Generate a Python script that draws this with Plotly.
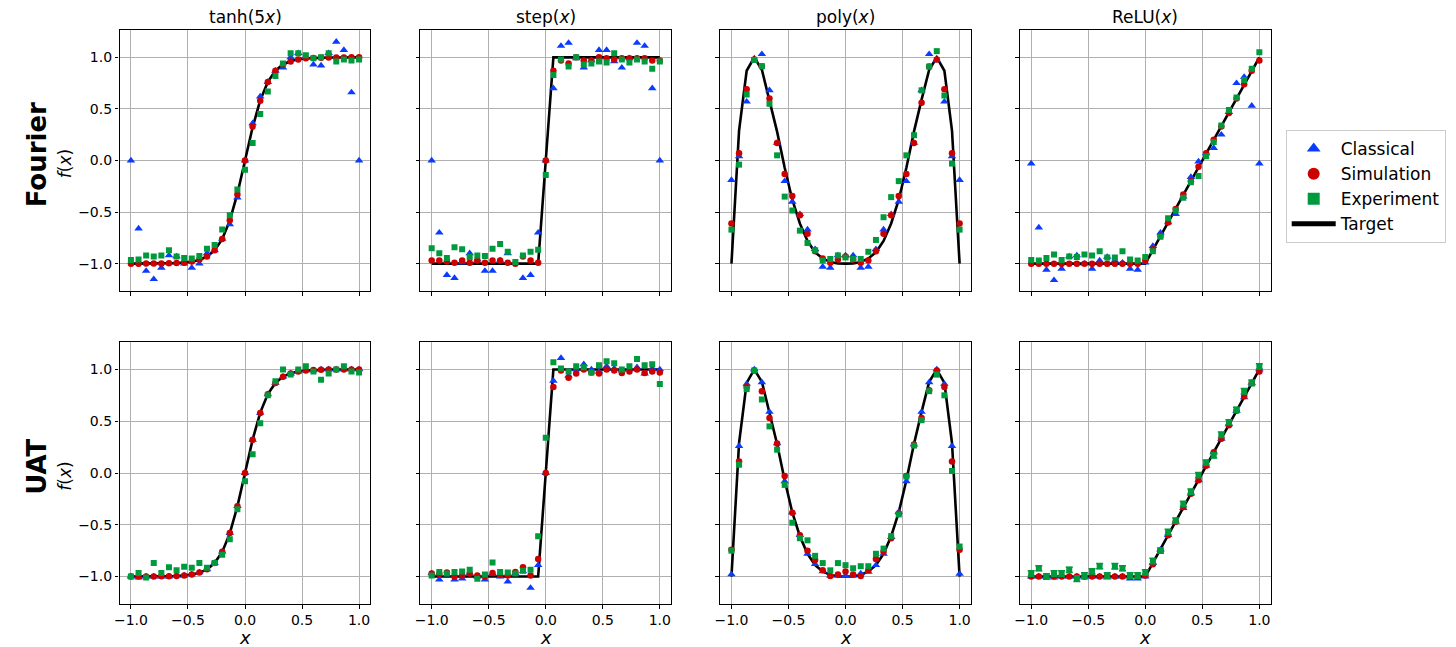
import plotly.graph_objects as go

# ---------------- data ----------------
X = [-1.0, -0.9333, -0.8667, -0.8, -0.7333, -0.6667, -0.6, -0.5333, -0.4667, -0.4,
     -0.3333, -0.2667, -0.2, -0.1333, -0.0667, 0.0, 0.0667, 0.1333, 0.2, 0.2667,
     0.3333, 0.4, 0.4667, 0.5333, 0.6, 0.6667, 0.7333, 0.8, 0.8667, 0.9333, 1.0]

TITLES = ["tanh(5<i>x</i>)", "step(<i>x</i>)", "poly(<i>x</i>)", "ReLU(<i>x</i>)"]
ROWS = ["Fourier", "UAT"]
SERIES = ["Classical", "Simulation", "Experiment", "Target"]

TANH_TARGET = [-1.0, -1.0, -0.999, -0.999, -0.999, -0.997, -0.995, -0.990, -0.981, -0.964,
               -0.931, -0.870, -0.762, -0.583, -0.322, 0.0, 0.322, 0.583, 0.762, 0.870,
               0.931, 0.964, 0.981, 0.990, 0.995, 0.997, 0.999, 0.999, 0.999, 1.0, 1.0]
STEP_TARGET = [-1.0, -1.0, -1.0, -1.0, -1.0, -1.0, -1.0, -1.0, -1.0, -1.0,
               -1.0, -1.0, -1.0, -1.0, -1.0, 0.0, 1.0, 1.0, 1.0, 1.0,
               1.0, 1.0, 1.0, 1.0, 1.0, 1.0, 1.0, 1.0, 1.0, 1.0, 1.0]
POLY_TARGET = [-1.0, 0.29, 0.87, 1.0, 0.88, 0.59, 0.28, -0.07, -0.38, -0.61,
               -0.78, -0.89, -0.95, -0.985, -0.998, -1.0, -0.998, -0.985, -0.95, -0.89,
               -0.78, -0.61, -0.38, -0.07, 0.28, 0.59, 0.88, 1.0, 0.87, 0.29, -1.0]
RELU_TARGET = [-1.0, -1.0, -1.0, -1.0, -1.0, -1.0, -1.0, -1.0, -1.0, -1.0,
               -1.0, -1.0, -1.0, -1.0, -1.0, -1.0, -0.867, -0.733, -0.6, -0.467,
               -0.333, -0.2, -0.067, 0.067, 0.2, 0.333, 0.467, 0.6, 0.733, 0.867, 1.0]

# Fourier row
T1_CLS = [0.0, -0.66, -1.07, -1.15, -1.04, -0.92, -0.93, -1.0, -1.04, -1.0,
          -0.9, -0.87, -0.76, -0.62, -0.36, 0.0, 0.36, 0.62, 0.76, 0.87,
          0.9, 1.0, 1.04, 1.0, 0.93, 0.92, 1.04, 1.15, 1.07, 0.66, 0.0]
T1_SIM = [-1.0, -1.0, -0.999, -0.998, -0.999, -0.996, -0.994, -0.99, -0.98, -0.96,
          -0.93, -0.87, -0.76, -0.58, -0.33, 0.0, 0.33, 0.58, 0.76, 0.87,
          0.93, 0.96, 0.98, 0.99, 0.994, 0.996, 0.999, 0.998, 0.999, 1.0, 1.0]
T1_EXP = [-0.965, -0.96, -0.92, -0.93, -0.92, -0.87, -0.93, -0.945, -0.95, -0.925,
          -0.855, -0.82, -0.67, -0.53, -0.28, -0.09, 0.17, 0.45, 0.67, 0.82,
          0.94, 1.04, 1.04, 1.02, 0.99, 1.0, 1.04, 0.96, 0.98, 0.97, 0.98]

S1_CLS = [0.0, -0.70, -1.11, -1.14, -0.99, -0.90, -0.96, -1.07, -1.07, -0.97,
          -0.90, -0.99, -1.14, -1.11, -0.70, 0.0, 0.70, 1.11, 1.14, 0.99,
          0.90, 0.97, 1.07, 1.07, 0.96, 0.90, 0.99, 1.14, 1.11, 0.70, 0.0]
S1_SIM = [-0.97, -0.97, -0.98, -0.99, -0.97, -0.99, -0.97, -0.99, -0.97, -0.97,
          -0.99, -1.0, -0.93, -0.97, -0.99, 0.0, 0.87, 0.97, 0.94, 1.0,
          0.97, 0.97, 1.0, 0.99, 0.98, 0.99, 0.99, 0.99, 0.99, 0.97, 0.97]
S1_EXP = [-0.85, -0.90, -0.945, -0.84, -0.86, -0.935, -0.92, -0.925, -0.855, -0.81,
          -0.885, -0.985, -0.92, -0.885, -0.865, -0.14, 0.83, 0.98, 0.91, 1.0,
          0.93, 0.94, 0.96, 0.95, 1.04, 0.98, 0.95, 0.98, 0.96, 0.89, 0.96]

P1_CLS = [-0.19, 0.04, 0.57, 0.97, 1.03, 0.68, 0.17, -0.2, -0.40, -0.52,
          -0.67, -0.86, -1.03, -1.04, -0.92, -0.92, -0.92, -1.04, -1.03, -0.86,
          -0.67, -0.52, -0.40, -0.2, 0.17, 0.68, 1.03, 0.97, 0.57, 0.04, -0.19]
P1_SIM = [-0.61, 0.07, 0.69, 0.98, 0.91, 0.6, 0.17, -0.13, -0.345, -0.53,
          -0.71, -0.88, -0.95, -0.99, -0.96, -0.93, -0.96, -0.99, -0.97, -0.88,
          -0.71, -0.53, -0.345, -0.13, 0.17, 0.56, 0.91, 0.98, 0.69, 0.07, -0.61]
P1_EXP = [-0.67, -0.04, 0.64, 0.975, 0.915, 0.55, 0.05, -0.35, -0.485, -0.68,
          -0.8, -0.87, -0.97, -0.955, -0.92, -0.94, -0.955, -0.955, -0.885, -0.77,
          -0.55, -0.355, -0.2, 0.05, 0.245, 0.68, 0.91, 1.06, 0.63, -0.03, -0.67]

R1_CLS = [-0.03, -0.65, -1.06, -1.16, -1.05, -0.93, -0.92, -1.0, -1.05, -0.97,
          -0.935, -0.97, -0.99, -1.05, -1.06, -0.99, -0.83, -0.70, -0.60, -0.52,
          -0.35, -0.16, -0.01, 0.07, 0.12, 0.25, 0.47, 0.75, 0.81, 0.53, -0.03]
R1_SIM = [-1.0, -1.0, -1.0, -1.0, -1.0, -1.0, -1.0, -1.0, -1.0, -1.0,
          -1.0, -1.0, -1.0, -1.0, -1.0, -0.97, -0.86, -0.73, -0.6, -0.47,
          -0.33, -0.2, -0.06, 0.07, 0.2, 0.33, 0.46, 0.6, 0.74, 0.87, 0.97]
R1_EXP = [-0.965, -0.97, -0.945, -0.91, -0.965, -0.93, -0.935, -0.91, -0.92, -0.88,
          -0.94, -0.94, -0.88, -0.96, -0.97, -0.935, -0.88, -0.74, -0.56, -0.485,
          -0.36, -0.21, -0.15, 0.04, 0.18, 0.34, 0.49, 0.61, 0.78, 0.89, 1.05]

# UAT row
T2_CLS = [-1.0, -1.01, -1.0, -1.0, -1.0, -1.0, -0.99, -0.99, -0.98, -0.96,
          -0.93, -0.87, -0.76, -0.58, -0.32, 0.0, 0.32, 0.58, 0.76, 0.87,
          0.93, 0.96, 0.98, 0.99, 0.99, 1.0, 1.0, 1.0, 1.0, 1.0, 1.0]
T2_SIM = [-1.0, -1.0, -1.0, -0.999, -0.998, -0.997, -0.994, -0.99, -0.98, -0.962,
          -0.93, -0.87, -0.76, -0.58, -0.32, 0.0, 0.32, 0.58, 0.76, 0.87,
          0.93, 0.96, 0.98, 0.99, 0.995, 0.997, 0.999, 0.999, 1.0, 1.0, 1.0]
T2_EXP = [-1.0, -0.965, -1.01, -0.87, -0.965, -0.91, -0.94, -0.905, -0.915, -0.87,
          -0.915, -0.87, -0.79, -0.64, -0.35, -0.08, 0.18, 0.48, 0.75, 0.885,
          1.0, 0.95, 1.0, 1.03, 0.98, 0.9, 0.96, 1.0, 1.03, 0.98, 0.97]

S2_CLS = [-0.97, -1.03, -0.98, -1.03, -1.02, -0.97, -1.0, -1.03, -0.97, -1.0,
          -1.05, -0.97, -0.95, -1.11, -0.89, 0.0, 0.89, 1.11, 0.94, 1.0,
          1.05, 1.0, 0.98, 1.03, 1.01, 0.99, 1.0, 1.02, 0.96, 1.01, 1.0]
S2_SIM = [-0.97, -0.975, -0.96, -1.0, -0.99, -0.97, -0.99, -1.0, -0.965, -0.985,
          -0.99, -0.955, -0.91, -0.99, -0.83, 0.0, 0.83, 0.99, 0.92, 0.96,
          1.0, 0.97, 0.96, 1.0, 0.99, 0.965, 0.98, 1.0, 0.965, 0.98, 0.97]
S2_EXP = [-0.99, -0.955, -0.97, -0.955, -0.95, -0.935, -1.02, -0.98, -0.865, -0.955,
          -0.96, -0.97, -0.945, -0.935, -0.61, 0.34, 1.07, 1.01, 0.98, 1.03,
          1.02, 0.97, 1.04, 1.08, 1.06, 1.0, 1.03, 1.1, 1.04, 1.05, 0.86]

P2_CLS = [-0.98, 0.26, 0.86, 1.0, 0.876, 0.59, 0.285, -0.08, -0.38, -0.60,
          -0.78, -0.88, -0.95, -0.99, -0.99, -0.99, -0.99, -0.97, -0.955, -0.89,
          -0.78, -0.62, -0.375, -0.08, 0.275, 0.59, 0.876, 1.0, 0.86, 0.26, -0.975]
P2_SIM = [-0.74, 0.11, 0.83, 0.99, 0.79, 0.53, 0.285, -0.03, -0.385, -0.6,
          -0.75, -0.84, -0.94, -0.995, -0.98, -0.95, -0.98, -0.995, -0.94, -0.83,
          -0.76, -0.63, -0.39, -0.03, 0.275, 0.53, 0.8, 0.99, 0.83, 0.11, -0.74]
P2_EXP = [-0.75, 0.08, 0.81, 0.99, 0.71, 0.45, 0.225, -0.115, -0.48, -0.63,
          -0.65, -0.8, -0.87, -0.94, -0.87, -0.89, -0.92, -0.9, -0.9, -0.78,
          -0.73, -0.61, -0.40, -0.035, 0.265, 0.51, 0.79, 0.95, 0.75, 0.02, -0.71]

R2_CLS = [-1.0, -1.0, -1.0, -1.01, -1.0, -1.0, -1.0, -1.01, -1.0, -1.0,
          -1.01, -1.0, -1.0, -1.02, -1.02, -1.0, -0.87, -0.74, -0.6, -0.47,
          -0.34, -0.2, -0.07, 0.07, 0.2, 0.33, 0.47, 0.6, 0.73, 0.87, 1.0]
R2_SIM = [-1.0, -1.0, -1.0, -1.0, -1.0, -1.0, -1.0, -1.0, -1.0, -1.0,
          -0.99, -1.0, -1.0, -1.0, -1.0, -0.99, -0.88, -0.75, -0.6, -0.47,
          -0.33, -0.2, -0.07, 0.07, 0.2, 0.33, 0.46, 0.6, 0.74, 0.87, 0.98]
R2_EXP = [-0.97, -0.92, -1.0, -0.97, -0.97, -0.935, -1.02, -0.99, -0.95, -0.9,
          -0.99, -0.9, -0.92, -0.99, -0.99, -0.96, -0.85, -0.75, -0.57, -0.46,
          -0.30, -0.18, -0.02, 0.1, 0.17, 0.37, 0.49, 0.61, 0.79, 0.87, 1.03]
R2_ERR = [0.026, 0.025, 0.027, 0.026, 0.026, 0.025, 0.027, 0.026, 0.026, 0.025,
          0.026, 0.026, 0.025, 0.026, 0.027, 0.026, 0.026, 0.025, 0.026, 0.026,
          0.027, 0.026, 0.025, 0.026, 0.026, 0.026, 0.025, 0.026, 0.026, 0.027, 0.026]

PANELS = [
    (0, 0, TANH_TARGET, T1_CLS, T1_SIM, T1_EXP, None),
    (0, 1, STEP_TARGET, S1_CLS, S1_SIM, S1_EXP, None),
    (0, 2, POLY_TARGET, P1_CLS, P1_SIM, P1_EXP, None),
    (0, 3, RELU_TARGET, R1_CLS, R1_SIM, R1_EXP, None),
    (1, 0, TANH_TARGET, T2_CLS, T2_SIM, T2_EXP, None),
    (1, 1, STEP_TARGET, S2_CLS, S2_SIM, S2_EXP, None),
    (1, 2, POLY_TARGET, P2_CLS, P2_SIM, P2_EXP, None),
    (1, 3, RELU_TARGET, R2_CLS, R2_SIM, R2_EXP, R2_ERR),
]

# ---------------- style / layout ----------------
W, H = 1456, 647
COL_PX = [(114, 366), (416, 668), (717, 969), (1018, 1270)]
ROW_PX = [(30, 291), (342, 604)]
BLUE, RED, GREEN = "#0a3cff", "#cc0000", "#009a3e"
FONT = "DejaVu Sans"
TICKS = [-1.0, -0.5, 0.0, 0.5, 1.0]


def fx(px):
    return px / W


def fy(py):
    return 1 - py / H


fig = go.Figure()
layout = dict(width=W, height=H, autosize=False,
              margin=dict(l=0, r=0, t=0, b=0),
              paper_bgcolor="white", plot_bgcolor="white",
              font=dict(family=FONT, size=13, color="black"),
              annotations=[])

for i, (r, c, tgt, cls, sim, exp, err) in enumerate(PANELS):
    n = i + 1
    xa = "x" if n == 1 else f"x{n}"
    ya = "y" if n == 1 else f"y{n}"
    first = n == 1
    fig.add_trace(go.Scatter(x=X, y=tgt, mode="lines", name=SERIES[3],
                             line=dict(color="black", width=2.6),
                             xaxis=xa, yaxis=ya, showlegend=first, legendrank=4))
    fig.add_trace(go.Scatter(x=X, y=cls, mode="markers", name=SERIES[0],
                             marker=dict(symbol="triangle-up", size=7.5, color=BLUE),
                             xaxis=xa, yaxis=ya, showlegend=first, legendrank=1))
    fig.add_trace(go.Scatter(x=X, y=sim, mode="markers", name=SERIES[1],
                             marker=dict(symbol="circle", size=6.5, color=RED),
                             xaxis=xa, yaxis=ya, showlegend=first, legendrank=2))
    ekw = {}
    if err is not None:
        ekw["error_y"] = dict(type="data", array=err, visible=True,
                              color=GREEN, thickness=1.5, width=3.5)
    fig.add_trace(go.Scatter(x=X, y=exp, mode="markers", name=SERIES[2],
                             marker=dict(symbol="square", size=6, color=GREEN),
                             xaxis=xa, yaxis=ya, showlegend=first, legendrank=3, **ekw))

    l, rr = COL_PX[c]
    t, b = ROW_PX[r]
    common = dict(showline=True, linecolor="black", linewidth=1.2, mirror=True,
                  showgrid=True, gridcolor="#b0b0b0", gridwidth=1, zeroline=False,
                  ticks="outside", ticklen=3.5, tickwidth=1, tickcolor="black",
                  tickvals=TICKS, tickformat=".1f",
                  tickfont=dict(family=FONT, size=14, color="black"))
    layout["xaxis" if n == 1 else f"xaxis{n}"] = dict(
        domain=[fx(l), fx(rr)], range=[-1.1, 1.1], anchor=ya,
        showticklabels=(r == 1), **common)
    layout["yaxis" if n == 1 else f"yaxis{n}"] = dict(
        domain=[fy(b), fy(t)], range=[-1.265, 1.265], anchor=xa,
        showticklabels=(c == 0), **common)

ann = layout["annotations"]
for c, title in enumerate(TITLES):
    l, rr = COL_PX[c]
    ann.append(dict(text=title, x=fx((l + rr) / 2), y=fy(17), xref="paper", yref="paper",
                    xanchor="center", yanchor="middle", showarrow=False,
                    font=dict(family=FONT, size=17, color="black")))
    ann.append(dict(text="<i>x</i>", x=fx((l + rr) / 2), y=fy(637.5), xref="paper", yref="paper",
                    xanchor="center", yanchor="middle", showarrow=False,
                    font=dict(family=FONT, size=18, color="black")))
for r, label in enumerate(ROWS):
    t, b = ROW_PX[r]
    ann.append(dict(text="<i>f</i>(<i>x</i>)", x=fx(59), y=fy((t + b) / 2 + 3),
                    xref="paper", yref="paper",
                    xanchor="center", yanchor="middle", showarrow=False, textangle=-90,
                    font=dict(family=FONT, size=17, color="black")))
    ann.append(dict(text=f"<b>{label}</b>", x=fx(31), y=fy((t + b) / 2 - 6),
                    xref="paper", yref="paper",
                    xanchor="center", yanchor="middle", showarrow=False, textangle=-90,
                    font=dict(family=FONT, size=26, color="black")))

layout["legend"] = dict(x=fx(1285), y=fy(130), xanchor="left", yanchor="top",
                        bgcolor="white", bordercolor="#cccccc", borderwidth=1,
                        font=dict(family=FONT, size=17, color="black"),
                        tracegroupgap=0, itemsizing="constant", itemwidth=44)
fig.update_layout(**layout)
fig.write_html("out.html", config={"displayModeBar": False},
               post_script="document.body.style.margin='0';document.body.style.overflow='hidden';")
